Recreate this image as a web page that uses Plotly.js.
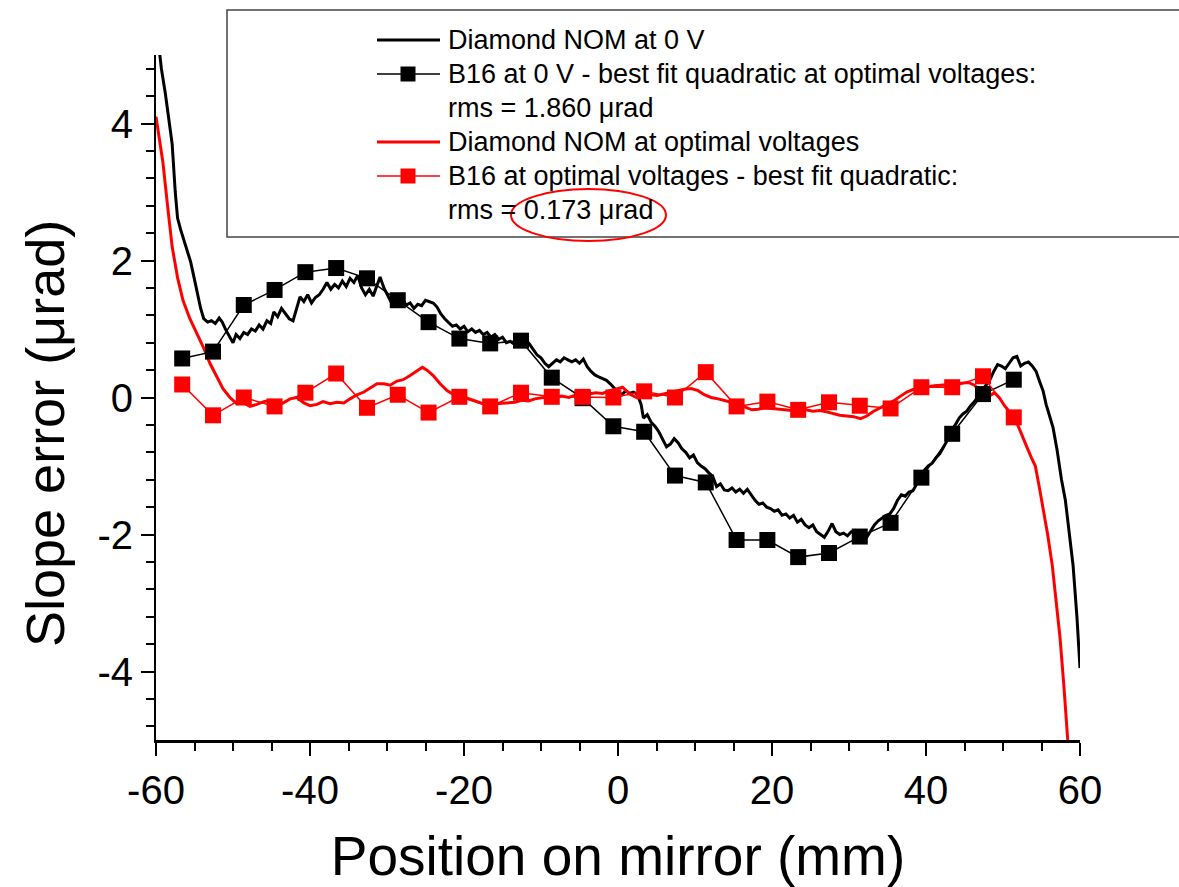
<!DOCTYPE html>
<html>
<head>
<meta charset="utf-8">
<script src="https://cdn.plot.ly/plotly-3.0.1.min.js"></script>
<style>html,body{margin:0;padding:0;background:#fff;}#chart{width:1179px;height:887px;}</style>
</head>
<body>
<div id="chart"></div>
<script>
// ---------- data ----------
var nomZeroX = [-59.7,-59.3,-58.8,-58.3,-57.9,-57.5,-57.2,-56.8,-56.4,-56.0,-55.5,-55.0,-54.6,-54.2,-53.8,-53.3,-52.8,-52.3,-51.8,-51.4,-50.9,-50.4,-50.0,-49.6,-49.1,-48.6,-48.1,-47.6,-47.1,-46.6,-46.1,-45.6,-45.1,-44.7,-44.2,-43.7,-43.2,-42.7,-42.2,-41.7,-41.3,-40.8,-40.3,-39.8,-39.3,-38.8,-38.3,-37.8,-37.3,-36.8,-36.3,-35.8,-35.3,-34.8,-34.3,-33.8,-33.3,-32.8,-32.3,-31.8,-31.3,-30.9,-30.4,-29.9,-29.5,-29.0,-28.5,-28.0,-27.5,-27.0,-26.5,-26.0,-25.5,-25.0,-24.5,-24.0,-23.5,-23.0,-22.5,-22.0,-21.5,-21.0,-20.5,-20.0,-19.5,-19.0,-18.5,-18.0,-17.5,-17.0,-16.5,-16.0,-15.5,-15.0,-14.5,-14.0,-13.5,-13.0,-12.5,-12.0,-11.5,-11.0,-10.5,-10.0,-9.5,-9.0,-8.5,-8.0,-7.5,-7.0,-6.5,-6.0,-5.5,-5.0,-4.5,-4.0,-3.5,-3.0,-2.5,-2.0,-1.5,-1.0,-0.5,0.0,0.5,1.0,1.5,2.0,2.5,3.0,3.3,3.8,4.3,4.8,5.3,5.8,6.3,6.8,7.3,7.8,8.3,8.8,9.3,9.8,10.3,10.8,11.3,11.8,12.3,12.8,13.3,13.8,14.3,14.8,15.3,15.8,16.3,16.8,17.3,17.8,18.3,18.8,19.3,19.8,20.3,20.8,21.3,21.8,22.3,22.8,23.3,23.8,24.3,24.8,25.3,25.8,26.3,26.8,27.3,27.8,28.3,28.8,29.3,29.8,30.3,30.8,31.3,31.8,32.3,32.8,33.3,33.8,34.3,34.8,35.3,35.8,36.3,36.8,37.3,37.8,38.3,38.8,39.3,39.8,40.3,40.8,41.3,41.8,42.3,42.8,43.3,43.8,44.3,44.8,45.3,45.8,46.3,46.8,47.3,47.8,48.3,48.8,49.3,49.8,50.3,50.8,51.3,51.8,52.3,52.8,53.3,53.8,54.3,54.8,55.2,55.6,56.0,56.5,57.0,57.6,58.1,58.5,59.1,59.6,60.0];
var nomZeroY = [5.2,4.8,4.45,4.05,3.7,3.0,2.62,2.45,2.3,2.15,1.98,1.72,1.5,1.3,1.15,1.1,1.12,1.08,1.16,1.1,0.98,0.88,0.8,0.92,0.86,0.95,0.92,1.0,0.97,1.06,1.0,1.12,1.08,1.25,1.18,1.3,1.22,1.15,1.12,1.3,1.47,1.4,1.5,1.38,1.46,1.5,1.58,1.68,1.58,1.65,1.6,1.7,1.62,1.74,1.68,1.78,1.6,1.5,1.58,1.48,1.62,1.76,1.6,1.5,1.4,1.48,1.38,1.42,1.35,1.38,1.3,1.36,1.34,1.42,1.4,1.38,1.32,1.22,1.15,1.1,1.04,1.06,1.0,1.04,0.96,1.0,0.95,0.98,0.92,0.95,0.88,0.92,0.85,0.88,0.8,0.82,0.78,0.85,0.8,0.84,0.78,0.7,0.62,0.58,0.5,0.45,0.5,0.55,0.52,0.58,0.55,0.52,0.55,0.5,0.56,0.45,0.38,0.33,0.3,0.28,0.25,0.2,0.14,0.08,0.04,0.1,0.06,0.08,0.05,-0.1,-0.3,-0.25,-0.36,-0.42,-0.5,-0.6,-0.72,-0.68,-0.6,-0.66,-0.75,-0.8,-0.88,-0.84,-0.95,-1.0,-1.04,-1.1,-1.15,-1.3,-1.26,-1.35,-1.36,-1.32,-1.38,-1.34,-1.4,-1.34,-1.42,-1.5,-1.56,-1.54,-1.6,-1.62,-1.66,-1.64,-1.72,-1.7,-1.76,-1.72,-1.82,-1.78,-1.86,-1.9,-1.86,-1.96,-2.0,-2.04,-1.95,-1.84,-1.96,-2.0,-1.98,-2.02,-1.96,-1.94,-2.0,-2.06,-2.04,-1.94,-1.86,-1.8,-1.76,-1.72,-1.7,-1.62,-1.5,-1.42,-1.44,-1.38,-1.36,-1.26,-1.14,-1.06,-1.0,-0.96,-0.88,-0.82,-0.72,-0.62,-0.48,-0.4,-0.3,-0.24,-0.2,-0.12,-0.06,0.02,0.1,0.18,0.26,0.38,0.48,0.46,0.42,0.5,0.58,0.6,0.46,0.5,0.52,0.46,0.38,0.22,0.1,-0.1,-0.25,-0.44,-0.75,-1.2,-1.5,-1.9,-2.45,-3.2,-3.95];

var nomOptX = [-60.0,-59.6,-59.1,-58.5,-57.9,-57.2,-56.5,-55.6,-54.7,-53.8,-53.0,-52.1,-51.3,-50.4,-49.5,-48.6,-47.8,-46.9,-46.0,-45.2,-44.3,-43.5,-42.6,-41.7,-40.8,-40.0,-39.1,-38.3,-37.4,-36.5,-35.6,-34.8,-33.9,-33.0,-32.2,-31.3,-30.4,-29.6,-28.7,-27.9,-27.0,-26.2,-25.4,-24.8,-24.0,-23.1,-22.2,-21.3,-20.4,-19.6,-18.7,-17.8,-16.9,-16.0,-15.2,-14.3,-13.4,-12.5,-11.6,-10.8,-9.9,-9.0,-8.2,-7.3,-6.4,-5.5,-4.6,-3.8,-2.9,-2.0,-1.1,-0.3,0.6,1.5,2.4,3.3,4.2,5.1,5.9,6.8,7.7,8.6,9.5,10.4,11.2,12.1,13.0,13.8,14.7,15.6,16.5,17.4,18.2,19.1,20.0,20.8,21.7,22.6,23.5,24.4,25.3,26.2,27.1,28.0,28.8,29.7,30.6,31.5,32.3,33.2,34.0,34.9,35.8,36.7,37.5,38.4,39.3,40.2,41.1,41.9,42.8,43.7,44.6,45.5,46.3,47.0,47.6,48.2,48.9,49.5,50.2,50.8,51.5,52.1,52.7,53.2,53.7,54.2,54.7,55.2,55.8,56.4,56.9,57.4,57.9,58.4,58.6];
var nomOptY = [4.1,3.8,3.43,2.8,2.2,1.75,1.42,1.15,0.94,0.72,0.5,0.3,0.13,0.0,-0.09,-0.08,-0.13,-0.1,-0.06,-0.04,-0.1,-0.08,-0.02,0.0,-0.08,-0.12,-0.1,-0.06,-0.09,-0.07,-0.08,-0.02,0.04,0.08,0.14,0.2,0.2,0.18,0.24,0.26,0.32,0.38,0.44,0.4,0.32,0.2,0.1,0.04,0.02,-0.01,-0.05,-0.08,-0.1,-0.09,-0.09,-0.08,-0.07,-0.04,-0.05,-0.02,0.0,0.01,0.0,0.02,0.0,0.04,0.07,0.05,0.07,0.06,0.1,0.12,0.15,0.05,0.0,0.02,0.04,0.03,0.05,0.08,0.1,0.12,0.13,0.1,0.04,0.0,-0.02,-0.04,-0.07,-0.1,-0.14,-0.18,-0.17,-0.15,-0.16,-0.17,-0.18,-0.19,-0.19,-0.18,-0.2,-0.19,-0.21,-0.24,-0.26,-0.27,-0.28,-0.31,-0.27,-0.2,-0.15,-0.1,-0.05,0.02,0.08,0.12,0.14,0.15,0.17,0.18,0.19,0.2,0.22,0.22,0.18,0.1,0.0,0.02,0.07,0.0,-0.12,-0.2,-0.3,-0.45,-0.6,-0.75,-0.88,-1.0,-1.3,-1.62,-2.0,-2.45,-2.95,-3.5,-4.2,-4.95,-5.3];

var b16X = [-56.6,-52.6,-48.6,-44.6,-40.6,-36.6,-32.6,-28.6,-24.6,-20.6,-16.6,-12.6,-8.6,-4.6,-0.6,3.4,7.4,11.4,15.4,19.4,23.4,27.4,31.4,35.4,39.4,43.4,47.4,51.4];
var b16ZeroY = [0.57,0.67,1.35,1.57,1.83,1.89,1.74,1.42,1.10,0.86,0.79,0.83,0.29,-0.01,-0.42,-0.50,-1.14,-1.24,-2.08,-2.08,-2.33,-2.27,-2.03,-1.83,-1.17,-0.53,0.05,0.26];
var b16OptY = [0.19,-0.26,0.0,-0.13,0.07,0.35,-0.15,0.04,-0.22,0.01,-0.13,0.07,0.01,0.01,0.0,0.09,0.0,0.37,-0.13,-0.06,-0.18,-0.07,-0.12,-0.16,0.15,0.15,0.31,-0.29];

var seriesNames = ["Diamond NOM at 0 V","B16 at 0 V - best fit quadratic at optimal voltages:","rms = 1.860 μrad","Diamond NOM at optimal voltages","B16 at optimal voltages - best fit quadratic:","rms = 0.173 μrad"];
var xTitle = "Position on mirror (mm)";
var yTitle = "Slope error (μrad)";
var xTickVals = [-60,-40,-20,0,20,40,60];
var xTickText = ["-60","-40","-20","0","20","40","60"];
var yTickVals = [-4,-2,0,2,4];
var yTickText = ["-4","-2","0","2","4"];

// ---------- layout helpers (pixel -> paper) ----------
var W = 1179, H = 887, mL = 156, mR = 99, mT = 55, mB = 147;
var pw = W - mL - mR, ph = H - mT - mB;
function px(x){ return (x - mL) / pw; }
function py(y){ return (H - mB - y) / ph; }

var FONT = "Liberation Sans, Arial, sans-serif";

var traces = [
  {x: nomZeroX, y: nomZeroY, mode: 'lines', name: seriesNames[0], line: {color: '#000', width: 3}, showlegend: false},
  {x: nomOptX, y: nomOptY, mode: 'lines', name: seriesNames[3], line: {color: '#ff0000', width: 3}, showlegend: false},
  {x: b16X, y: b16ZeroY, mode: 'lines+markers', name: seriesNames[1], line: {color: '#000', width: 1.5}, marker: {symbol: 'square', size: 16, color: '#000'}, showlegend: false},
  {x: b16X, y: b16OptY, mode: 'lines+markers', name: seriesNames[4], line: {color: '#ff0000', width: 1.5}, marker: {symbol: 'square', size: 16, color: '#ff0000'}, showlegend: false}
];

// manual legend
var rowsY = [40, 74, 108, 142, 176, 210];
var shapes = [
  {type: 'rect', xref: 'paper', yref: 'paper', x0: px(227), x1: px(1190), y0: py(237), y1: py(10), line: {color: '#444', width: 1.5}, fillcolor: '#fff', layer: 'above'},
  {type: 'line', xref: 'paper', yref: 'paper', x0: px(377), x1: px(440), y0: py(rowsY[0]), y1: py(rowsY[0]), line: {color: '#000', width: 3}, layer: 'above'},
  {type: 'line', xref: 'paper', yref: 'paper', x0: px(377), x1: px(440), y0: py(rowsY[1]), y1: py(rowsY[1]), line: {color: '#000', width: 1.5}, layer: 'above'},
  {type: 'rect', xref: 'paper', yref: 'paper', x0: px(400.5), x1: px(415.5), y0: py(rowsY[1]+7.5), y1: py(rowsY[1]-7.5), line: {width: 0}, fillcolor: '#000', layer: 'above'},
  {type: 'line', xref: 'paper', yref: 'paper', x0: px(377), x1: px(440), y0: py(rowsY[3]), y1: py(rowsY[3]), line: {color: '#ff0000', width: 3}, layer: 'above'},
  {type: 'line', xref: 'paper', yref: 'paper', x0: px(377), x1: px(440), y0: py(rowsY[4]), y1: py(rowsY[4]), line: {color: '#ff0000', width: 1.5}, layer: 'above'},
  {type: 'rect', xref: 'paper', yref: 'paper', x0: px(400.5), x1: px(415.5), y0: py(rowsY[4]+7.5), y1: py(rowsY[4]-7.5), line: {width: 0}, fillcolor: '#ff0000', layer: 'above'},
  {type: 'circle', xref: 'paper', yref: 'paper', x0: px(511), x1: px(666), y0: py(241), y1: py(189), line: {color: '#ff0000', width: 2}, layer: 'above'}
];
var annotations = seriesNames.map(function(t, i){
  return {text: t, xref: 'paper', yref: 'paper', x: px(446), y: py(rowsY[i]), xanchor: 'left', yanchor: 'middle', showarrow: false, font: {family: FONT, size: 27, color: '#000'}};
});
annotations.push({text: yTitle, xref: 'paper', yref: 'paper', x: px(45), y: py(434), xanchor: 'center', yanchor: 'middle', textangle: -90, showarrow: false, font: {family: FONT, size: 54, color: '#000'}});

var layout = {
  width: W, height: H,
  margin: {l: mL, r: mR, t: mT, b: mB, pad: 0},
  paper_bgcolor: '#fff', plot_bgcolor: '#fff',
  font: {family: FONT, color: '#000'},
  showlegend: false,
  xaxis: {
    range: [-60, 60], tickmode: 'array', tickvals: xTickVals, ticktext: xTickText,
    ticks: 'outside', ticklen: 13, tickwidth: 2, tickcolor: '#000',
    showline: true, linewidth: 2.5, linecolor: '#000', showgrid: false, zeroline: false, mirror: false,
    minor: {tick0: 0, dtick: 5, ticks: 'outside', ticklen: 8, tickwidth: 2, tickcolor: '#000', showgrid: false},
    tickfont: {family: FONT, size: 40, color: '#000'},
    title: {text: xTitle, font: {family: FONT, size: 55, color: '#000'}, standoff: 26},
    automargin: false, fixedrange: true
  },
  yaxis: {
    range: [-5, 5], tickmode: 'array', tickvals: yTickVals, ticktext: yTickText,
    ticks: 'outside', ticklen: 13, tickwidth: 2, tickcolor: '#000',
    showline: true, linewidth: 2, linecolor: '#000', showgrid: false, zeroline: false, mirror: false,
    minor: {tick0: 0, dtick: 0.4, ticks: 'outside', ticklen: 8, tickwidth: 2, tickcolor: '#000', showgrid: false},
    tickfont: {family: FONT, size: 40, color: '#000'},
    automargin: false, fixedrange: true
  },
  shapes: shapes,
  annotations: annotations
};

Plotly.newPlot('chart', traces, layout, {displayModeBar: false, staticPlot: true});
</script>
</body>
</html>
